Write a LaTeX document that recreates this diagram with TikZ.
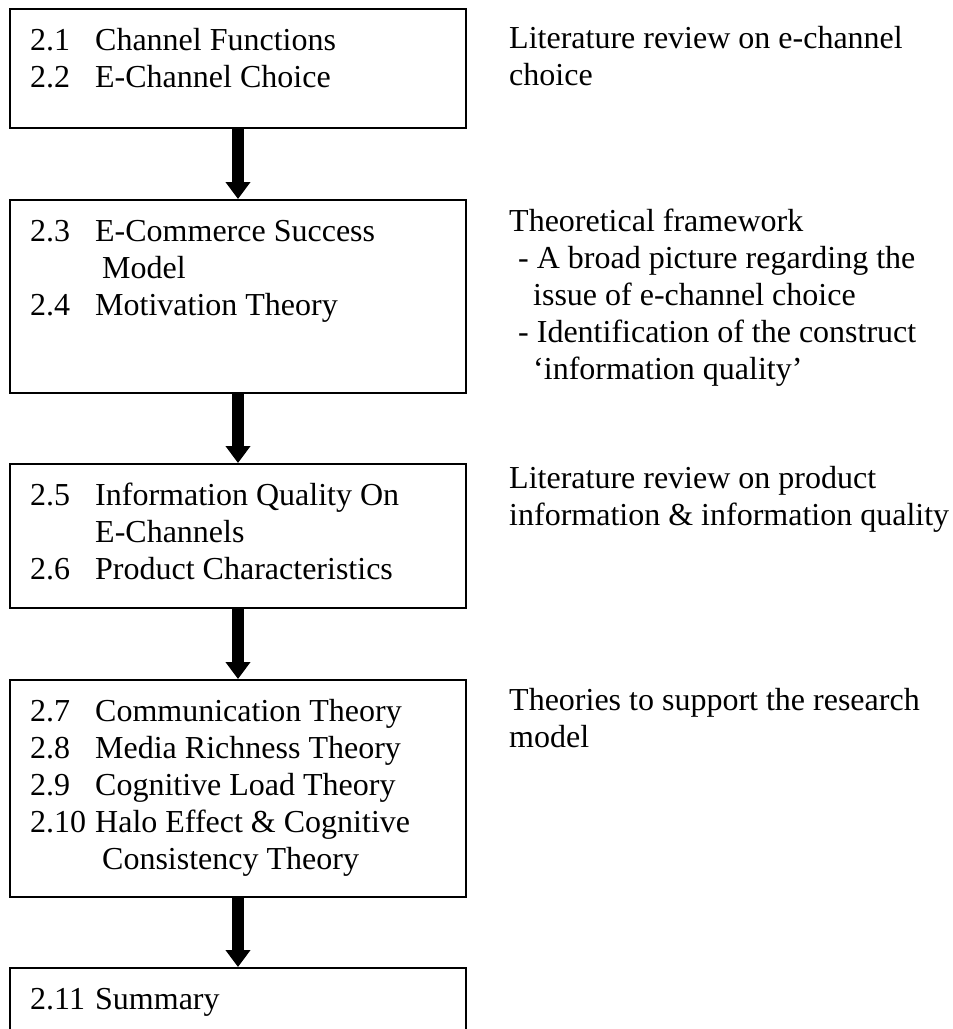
\documentclass[tikz,border=0pt]{standalone}
\usepackage{fontspec}
\setmainfont{Liberation Serif}
\usetikzlibrary{arrows.meta}

\newcommand{\numsec}[1]{\makebox[65pt][l]{#1}}

\begin{document}
\begin{tikzpicture}[x=1pt,y=-1pt]
	\tikzset{boite/.style={draw=black, line width=2pt, minimum width=456pt, inner sep=0pt},
	fleche/.style={line width=12pt, -{Triangle[width=24pt,length=17pt]}},
	texte/.style={anchor=base west, align=left, inner sep=0pt, font=\fontsize{32}{37}\selectfont}};

	\clip (0,0) rectangle (953,1029);

	\foreach \n/\haut/\bas in {1/9/128, 2/200/393, 3/464/608, 4/680/897, 5/968/1080}{
		\pgfmathsetmacro{\hauteur}{\bas-\haut}
		\node[boite, minimum height=\hauteur pt] (b\n) at (238, {(\haut+\bas)/2}) {};
	}

	\foreach \a/\b in {1/2, 2/3, 3/4, 4/5}{
		\draw[fleche] (b\a) -- (b\b);
	}

	% base west = baseline of the last line
	\node[texte] (g1) at (30, 87) {\numsec{2.1}Channel Functions\\ \numsec{2.2}E-Channel Choice};
	\node[texte] (g2) at (30, 315) {\numsec{2.3}E-Commerce Success\\ \hspace*{72pt}Model\\ \numsec{2.4}Motivation Theory};
	\node[texte] (g3) at (30, 579) {\numsec{2.5}Information Quality On\\ \hspace*{65pt}E-Channels\\ \numsec{2.6}Product Characteristics};
	\node[texte] (g4) at (30, 869) {\numsec{2.7}Communication Theory\\ \numsec{2.8}Media Richness Theory\\
	\numsec{2.9}Cognitive Load Theory\\ \numsec{2.10}Halo Effect \& Cognitive\\ \hspace*{72pt}Consistency Theory};
	\node[texte] (g5) at (30, 1009) {\numsec{2.11}Summary};

	\node[texte] (d1) at (509, 85) {Literature review on e-channel\\ choice};
	\node[texte] (d2) at (509, 379) {Theoretical framework\\ \hspace*{9pt}- A broad picture regarding the\\
	\hspace*{24pt}issue of e-channel choice\\ \hspace*{9pt}- Identification of the construct\\ \hspace*{24pt}`information quality'};
	\node[texte] (d3) at (509, 525) {Literature review on product\\ information \& information quality};
	\node[texte] (d4) at (509, 747) {Theories to support the research\\ model};

\end{tikzpicture}
\end{document}
